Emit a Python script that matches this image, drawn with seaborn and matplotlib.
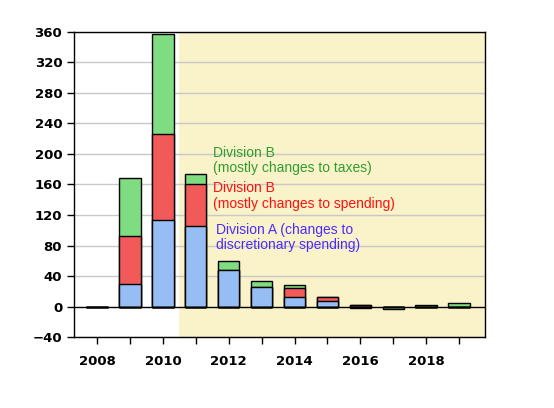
import numpy as np
import seaborn as sns
import matplotlib.pyplot as plt

years = [2008, 2009, 2010, 2011, 2012, 2013, 2014, 2015, 2016, 2017, 2018, 2019]
div_a = [0, 29, 114, 106, 48, 25, 13, 7, 0, 0, 0, 0]
div_b_spend = [0, 64, 112, 54, 0, 0, 11, 5, 2.5, 0, 0, 0]
div_b_tax = [0, 76, 131, 14, 12, 8, 4, 0, -1.5, -3, 2.5, 4.5]

blue = '#96bef5'
red = '#f25a5a'
green = '#80dc80'

sns.set_style('white')
plt.rcParams['font.family'] = ['DejaVu Sans']

fig = plt.figure(figsize=(5.54, 4.08), dpi=100)
ax = fig.add_axes([0.1336, 0.174, 0.7414, 0.7476])

ax.axvspan(2010.5, 2020, color='#faf2c8', zorder=0, lw=0)
for yv in range(-40, 361, 40):
    if yv != 0:
        ax.axhline(yv, color='#c8c8c8', lw=1, zorder=0.5)

a = np.array(div_a, dtype=float)
r = np.array(div_b_spend, dtype=float)
g = np.array(div_b_tax, dtype=float)

# positive and negative parts are stacked separately, outermost layer first
for part in (lambda v: np.clip(v, 0, None), lambda v: np.clip(v, None, 0)):
    c1 = part(a)
    c2 = c1 + part(r)
    c3 = c2 + part(g)
    for vals, col in ((c3, green), (c2, red), (c1, blue)):
        sns.barplot(x=years, y=vals, native_scale=True, width=0.65, color=col,
                    saturation=1, edgecolor='black', linewidth=1, errorbar=None,
                    ax=ax, zorder=2)

ax.axhline(0, color='black', lw=1, zorder=1.5)

ax.set_xlim(2007.3, 2019.78)
ax.set_ylim(-40, 360)
ax.set_yticks(range(-40, 361, 40))
ax.set_xticks(years, minor=True)
ax.set_xticks([2008, 2010, 2012, 2014, 2016, 2018])
ax.set_xticklabels(['2008', '2010', '2012', '2014', '2016', '2018'])
ax.tick_params(axis='both', which='both', direction='out', length=5, width=1,
               color='black', labelcolor='black', labelsize=9.5, bottom=True, left=True)
ax.tick_params(axis='x', pad=8)
for lab in ax.get_xticklabels() + ax.get_yticklabels():
    lab.set_fontweight('heavy')
for s in ax.spines.values():
    s.set_color('black')
    s.set_linewidth(1)
ax.set_xlabel('')
ax.set_ylabel('')

ax.text(2011.52, 211, 'Division B\n(mostly changes to taxes)', color='#2e9e2e',
        fontsize=10, va='top', ha='left', family='Liberation Sans', linespacing=1.1)
ax.text(2011.52, 164, 'Division B\n(mostly changes to spending)', color='#ff1010',
        fontsize=10, va='top', ha='left', family='Liberation Sans', linespacing=1.1)
ax.text(2011.62, 109, 'Division A (changes to\ndiscretionary spending)', color='#4a2cff',
        fontsize=10, va='top', ha='left', family='Liberation Sans', linespacing=1.1)

plt.savefig('out.png', dpi=100)
